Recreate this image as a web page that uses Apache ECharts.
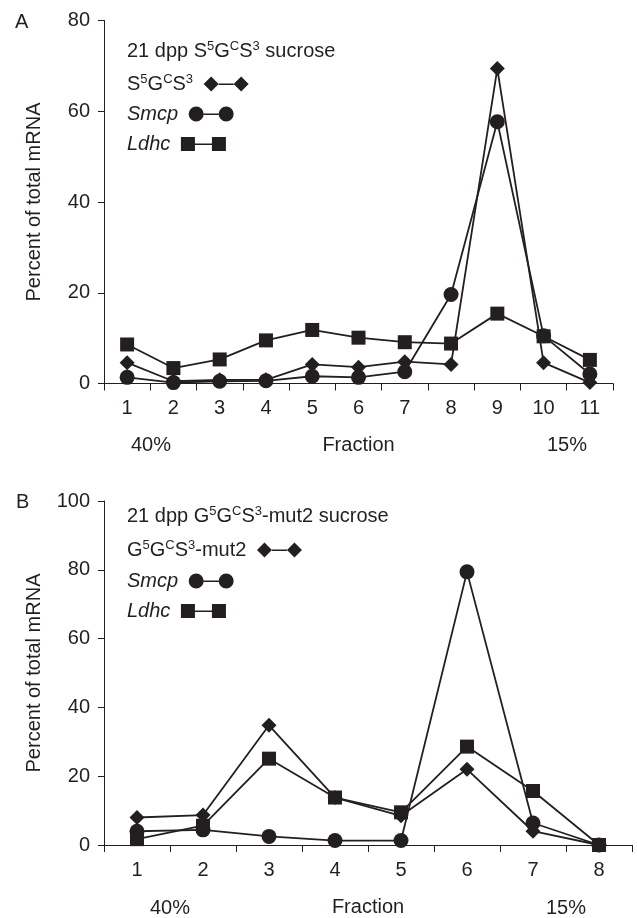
<!DOCTYPE html>
<html>
<head>
<meta charset="utf-8">
<script src="https://cdn.jsdelivr.net/npm/echarts@6/dist/echarts.min.js"></script>
<style>
html,body{margin:0;padding:0;background:#fff;}
#chart{width:637px;height:918px;}
</style>
</head>
<body>
<div id="chart"></div>
<script>
// ---- Data ----
const fractionsA = ['1','2','3','4','5','6','7','8','9','10','11'];
const constructA = [4.6, 0.5, 0.8, 0.8, 4.2, 3.6, 4.8, 4.2, 69.4, 4.6, 0.2];
const smcpA      = [1.35, 0.2, 0.5, 0.6, 1.6, 1.35, 2.6, 19.6, 57.7, 10.5, 2.1];
const ldhcA      = [8.6, 3.4, 5.3, 9.5, 11.8, 10.1, 9.1, 8.8, 15.4, 10.4, 5.2];

const fractionsB = ['1','2','3','4','5','6','7','8'];
const constructB = [8.0, 8.7, 34.8, 13.8, 8.5, 22.0, 4.0, 0];
const smcpB      = [4.0, 4.4, 2.5, 1.3, 1.3, 79.4, 6.4, 0];
const ldhcB      = [1.7, 5.6, 25.1, 13.8, 9.5, 28.6, 15.7, 0];

const yTicksA = {min: 0, max: 80, interval: 20};
const yTicksB = {min: 0, max: 100, interval: 20};

// ---- Styling ----
const INK = '#231f20';
const FONT = '"Liberation Sans", Arial, Helvetica, sans-serif';
const FS = 20;

const rich = {
  n: {fontSize: FS, fontFamily: FONT, color: INK, lineHeight: 22},
  i: {fontSize: FS, fontFamily: FONT, color: INK, fontStyle: 'italic', lineHeight: 22},
  s: {fontSize: 13, fontFamily: FONT, color: INK, verticalAlign: 'top', lineHeight: 14}
};

const iconDiamond = 'path://M0 7.5L7.5 0L15 7.5L7.5 15Z M15 7L30 7L30 8.4L15 8.4Z M30 7.5L37.5 0L45 7.5L37.5 15Z';
const iconCircle = 'path://M0 7.5A7.5 7.5 0 1 1 15 7.5A7.5 7.5 0 1 1 0 7.5Z M15 7L30 7L30 8.4L15 8.4Z M30 7.5A7.5 7.5 0 1 1 45 7.5A7.5 7.5 0 1 1 30 7.5Z';
const iconSquare = 'path://M0 0.5L14 0.5L14 14.5L0 14.5Z M14 7L31 7L31 8.4L14 8.4Z M31 0.5L45 0.5L45 14.5L31 14.5Z';

const labelMap = {
  A_construct: '{n|S}{s|5}{n|G}{s|C}{n|S}{s|3}{n| }',
  B_construct: '{n|G}{s|5}{n|G}{s|C}{n|S}{s|3}{n|-mut2 }',
  A_smcp: '{i|Smcp }', B_smcp: '{i|Smcp }',
  A_ldhc: '{i|Ldhc }', B_ldhc: '{i|Ldhc }'
};

function legendFor(name, icon, top) {
  return {
    data: [name], left: 127, top: top, orient: 'horizontal', align: 'right',
    padding: 0, itemWidth: 45, itemHeight: 15, icon: icon, selectedMode: false,
    formatter: n => labelMap[n],
    textStyle: {rich: rich, fontSize: FS, color: INK}
  };
}

function mkSeries(name, data, symbol, size, gi) {
  return {
    name: name, type: 'line', data: data, xAxisIndex: gi, yAxisIndex: gi,
    symbol: symbol, symbolSize: size, clip: false,
    lineStyle: {color: INK, width: 1.8},
    itemStyle: {color: INK, borderWidth: 0},
    emphasis: {disabled: true}, animation: false
  };
}

function xAx(data, gi) {
  return {
    type: 'category', gridIndex: gi, data: data, boundaryGap: true,
    axisLine: {lineStyle: {color: INK, width: 1}},
    axisTick: {show: true, inside: false, length: 7, lineStyle: {color: INK}},
    axisLabel: {color: INK, fontSize: FS, fontFamily: FONT, margin: 15},
    name: 'Fraction', nameLocation: 'middle', nameGap: 52,
    nameTextStyle: {color: INK, fontSize: FS, fontFamily: FONT},
    splitLine: {show: false}
  };
}
function yAx(t, gi) {
  return {
    type: 'value', gridIndex: gi, min: t.min, max: t.max, interval: t.interval,
    axisLine: {show: true, lineStyle: {color: INK, width: 1}},
    axisTick: {show: true, inside: false, length: 6, lineStyle: {color: INK}},
    axisLabel: {color: INK, fontSize: FS, fontFamily: FONT, margin: 14},
    splitLine: {show: false},
    name: 'Percent of total mRNA', nameLocation: 'middle', nameGap: 60,
    nameTextStyle: {color: INK, fontSize: FS, fontFamily: FONT}
  };
}

const chart = echarts.init(document.getElementById('chart'), null, {renderer: 'canvas'});
chart.setOption({
  backgroundColor: '#fff',
  animation: false,
  textStyle: {fontFamily: FONT},
  grid: [
    {left: 104, right: 24, top: 20.5, bottom: 534.5, containLabel: false},
    {left: 104, right: 5, top: 501, bottom: 72.3, containLabel: false}
  ],
  xAxis: [xAx(fractionsA, 0), xAx(fractionsB, 1)],
  yAxis: [yAx(yTicksA, 0), yAx(yTicksB, 1)],
  title: [
    {text: 'A', left: 15, top: 12, padding: 0, textStyle: {fontSize: FS, fontWeight: 'normal', color: INK, fontFamily: FONT}},
    {text: 'B', left: 16, top: 492, padding: 0, textStyle: {fontSize: FS, fontWeight: 'normal', color: INK, fontFamily: FONT}},
    {text: '{n|21 dpp S}{s|5}{n|G}{s|C}{n|S}{s|3}{n| sucrose}', left: 127, top: 40, padding: 0,
     textStyle: {rich: rich, fontSize: FS, fontWeight: 'normal', color: INK}},
    {text: '{n|21 dpp G}{s|5}{n|G}{s|C}{n|S}{s|3}{n|-mut2 sucrose}', left: 127, top: 505, padding: 0,
     textStyle: {rich: rich, fontSize: FS, fontWeight: 'normal', color: INK}}
  ],
  legend: [
    legendFor('A_construct', iconDiamond, 73),
    legendFor('A_smcp', iconCircle, 104),
    legendFor('A_ldhc', iconSquare, 134),
    legendFor('B_construct', iconDiamond, 539),
    legendFor('B_smcp', iconCircle, 571),
    legendFor('B_ldhc', iconSquare, 601)
  ],
  graphic: [
    {type: 'text', x: 151, y: 445, style: {text: '40%', fill: INK, font: FS + 'px ' + FONT, align: 'center', verticalAlign: 'middle'}},
    {type: 'text', x: 567, y: 445, style: {text: '15%', fill: INK, font: FS + 'px ' + FONT, align: 'center', verticalAlign: 'middle'}},
    {type: 'text', x: 170, y: 908, style: {text: '40%', fill: INK, font: FS + 'px ' + FONT, align: 'center', verticalAlign: 'middle'}},
    {type: 'text', x: 566, y: 908, style: {text: '15%', fill: INK, font: FS + 'px ' + FONT, align: 'center', verticalAlign: 'middle'}}
  ],
  series: [
    mkSeries('A_construct', constructA, 'diamond', 15, 0),
    mkSeries('A_smcp', smcpA, 'circle', 15, 0),
    mkSeries('A_ldhc', ldhcA, 'rect', 14, 0),
    mkSeries('B_construct', constructB, 'diamond', 15, 1),
    mkSeries('B_smcp', smcpB, 'circle', 15, 1),
    mkSeries('B_ldhc', ldhcB, 'rect', 14, 1)
  ]
});
</script>
</body>
</html>
